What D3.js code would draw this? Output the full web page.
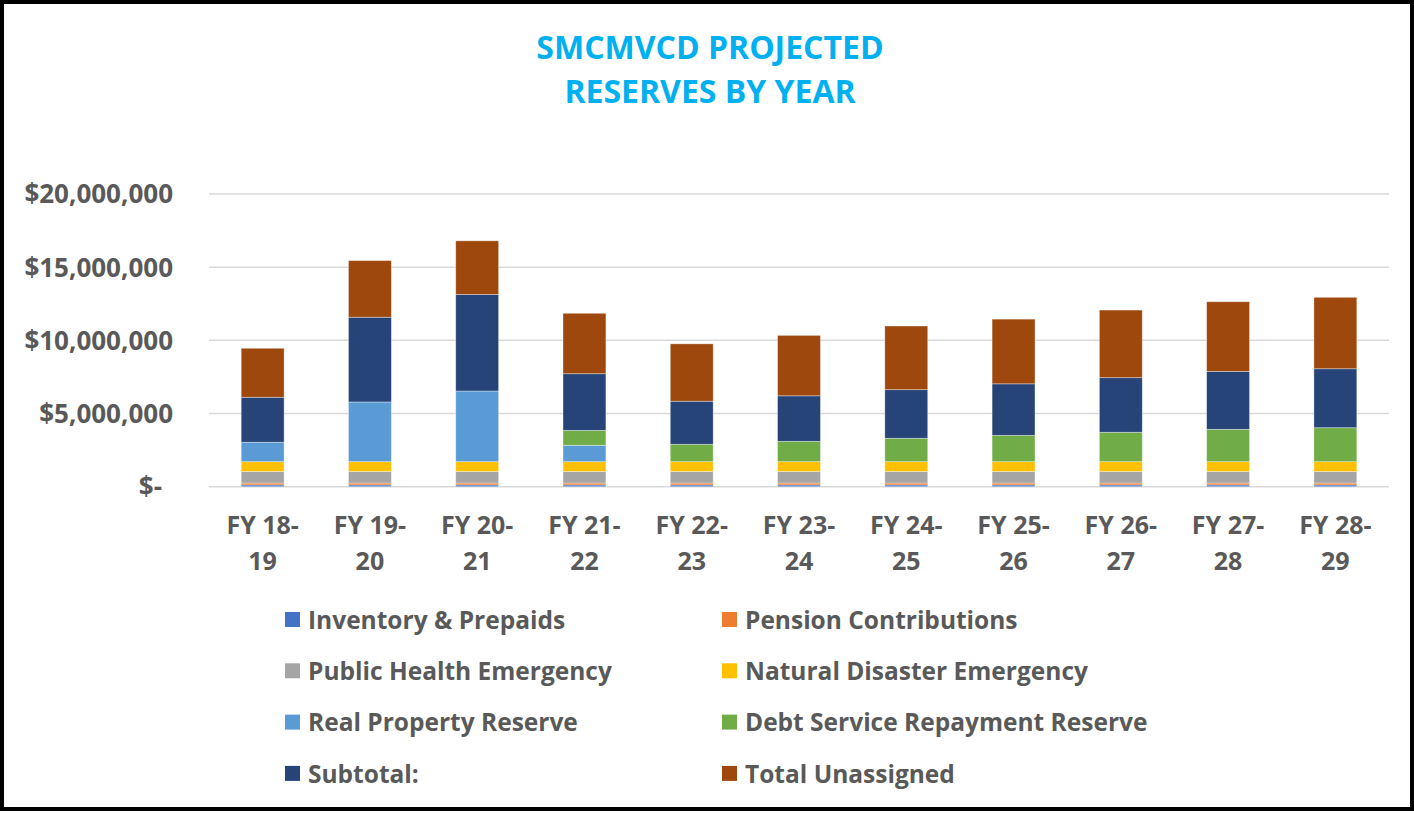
<!DOCTYPE html>
<html>
<head>
<meta charset="utf-8">
<script src="https://cdn.jsdelivr.net/npm/d3@7"></script>
<style>
  body { margin: 0; background: #fff; }
  svg text { font-family: "Open Sans", Lato, sans-serif; font-weight: bold; }
</style>
</head>
<body>
<div id="chart"></div>
<script>
// fiscal years (two-line labels)
var years = ["FY 18-19", "FY 19-20", "FY 20-21", "FY 21-22", "FY 22-23", "FY 23-24",
             "FY 24-25", "FY 25-26", "FY 26-27", "FY 27-28", "FY 28-29"];

var seriesNames = ["Inventory & Prepaids", "Pension Contributions", "Public Health Emergency",
                   "Natural Disaster Emergency", "Real Property Reserve", "Debt Service Repayment Reserve",
                   "Subtotal:", "Total Unassigned"];

var seriesColors = ["#4472C4", "#ED7D31", "#A5A5A5", "#FFC000", "#5B9BD5", "#70AD47", "#264478", "#9E480E"];

// values (dollars)
var inventory   = [120000, 120000, 120000, 120000, 120000, 120000, 120000, 120000, 120000, 120000, 120000];
var pension     = [130000, 130000, 130000, 130000, 130000, 130000, 130000, 130000, 130000, 130000, 130000];
var publicHealth = [790000, 790000, 790000, 790000, 790000, 790000, 790000, 790000, 790000, 790000, 790000];
var naturalDisaster = [670000, 670000, 670000, 670000, 670000, 670000, 670000, 670000, 670000, 670000, 670000];
var realProperty = [1330000, 4080000, 4830000, 1120000, 0, 0, 0, 0, 0, 0, 0];
var debtService = [0, 0, 0, 1020000, 1190000, 1390000, 1600000, 1800000, 2010000, 2210000, 2320000];
var subtotal    = [3070000, 5790000, 6600000, 3870000, 2940000, 3110000, 3320000, 3520000, 3730000, 3960000, 4030000];
var unassigned  = [3350000, 3870000, 3660000, 4130000, 3920000, 4130000, 4350000, 4420000, 4620000, 4760000, 4880000];

var yTicks = [0, 5000000, 10000000, 15000000, 20000000];

var seriesValues = [inventory, pension, publicHealth, naturalDisaster, realProperty, debtService, subtotal, unassigned];

var rows = years.map(function(y, i) {
    var r = { year: y };
    seriesNames.forEach(function(s, j) { r[s] = seriesValues[j][i]; });
    return r;
});

var W = 1414, H = 813;

var svg = d3.select("#chart").append("svg")
    .attr("width", W)
    .attr("height", H);

svg.append("rect")
    .attr("x", 2).attr("y", 2)
    .attr("width", W - 4).attr("height", H - 6)
    .attr("fill", "#fff")
    .attr("stroke", "#000")
    .attr("stroke-width", 4);

// title
var title = svg.append("text")
    .attr("text-anchor", "middle")
    .attr("fill", "#00B0F0")
    .style("font-size", "32px");
title.append("tspan").attr("x", 710).attr("y", 59).text("SMCMVCD PROJECTED");
title.append("tspan").attr("x", 710).attr("y", 103).text("RESERVES BY YEAR");

var x = d3.scaleBand()
    .domain(years)
    .range([209, 1389])
    .paddingInner(0.6)
    .paddingOuter(0.3);

var y = d3.scaleLinear()
    .domain([0, 20000000])
    .range([486.7, 194]);

// gridlines
svg.append("g")
    .selectAll("line")
    .data(yTicks)
    .enter()
    .append("line")
    .attr("x1", 209).attr("x2", 1389)
    .attr("y1", function(d) { return y(d); })
    .attr("y2", function(d) { return y(d); })
    .attr("stroke", "#D9D9D9")
    .attr("stroke-width", 1.5);

var fmt = d3.format(",");
svg.append("g")
    .selectAll("text")
    .data(yTicks)
    .enter()
    .append("text")
    .attr("x", 173)
    .attr("dx", function(d) { return d === 0 ? -11 : 0; })
    .attr("y", function(d) { return y(d); })
    .attr("dy", "0.36em")
    .attr("text-anchor", "end")
    .attr("fill", "#595959")
    .style("font-size", "26px")
    .text(function(d) { return d === 0 ? "$-" : "$" + fmt(d); });

var stack = d3.stack().keys(seriesNames);
var layers = stack(rows);

svg.append("g")
    .selectAll("g")
    .data(layers)
    .enter()
    .append("g")
    .attr("fill", function(d, i) { return seriesColors[i]; })
    .selectAll("rect")
    .data(function(d) { return d; })
    .enter()
    .append("rect")
    .attr("x", function(d) { return x(d.data.year); })
    .attr("width", x.bandwidth())
    .attr("y", function(d) { return y(d[1]); })
    .attr("height", function(d) { return y(d[0]) - y(d[1]); })
    .attr("stroke", "#fff")
    .attr("stroke-opacity", 0.45)
    .attr("stroke-width", 0.8);

// x labels, two lines each
var xl = svg.append("g")
    .selectAll("text")
    .data(years)
    .enter()
    .append("text")
    .attr("text-anchor", "middle")
    .attr("fill", "#595959")
    .style("font-size", "25px");
xl.append("tspan")
    .attr("x", function(d) { return x(d) + x.bandwidth() / 2; })
    .attr("y", 534)
    .text(function(d) { return d.split("-")[0] + "-"; });
xl.append("tspan")
    .attr("x", function(d) { return x(d) + x.bandwidth() / 2; })
    .attr("y", 570)
    .text(function(d) { return d.split("-")[1]; });

// legend
var legend = svg.append("g")
    .selectAll("g")
    .data(seriesNames)
    .enter()
    .append("g")
    .attr("transform", function(d, i) {
        var col = i % 2, row = Math.floor(i / 2);
        return "translate(" + (col ? 722 : 285) + "," + (620 + row * 51.3) + ")";
    });

legend.append("rect")
    .attr("x", 0).attr("y", -8)
    .attr("width", 15).attr("height", 15)
    .attr("fill", function(d, i) { return seriesColors[i]; });

legend.append("text")
    .attr("x", 23)
    .attr("dy", "0.36em")
    .attr("fill", "#595959")
    .style("font-size", "24.5px")
    .text(function(d) { return d; });
</script>
</body>
</html>
